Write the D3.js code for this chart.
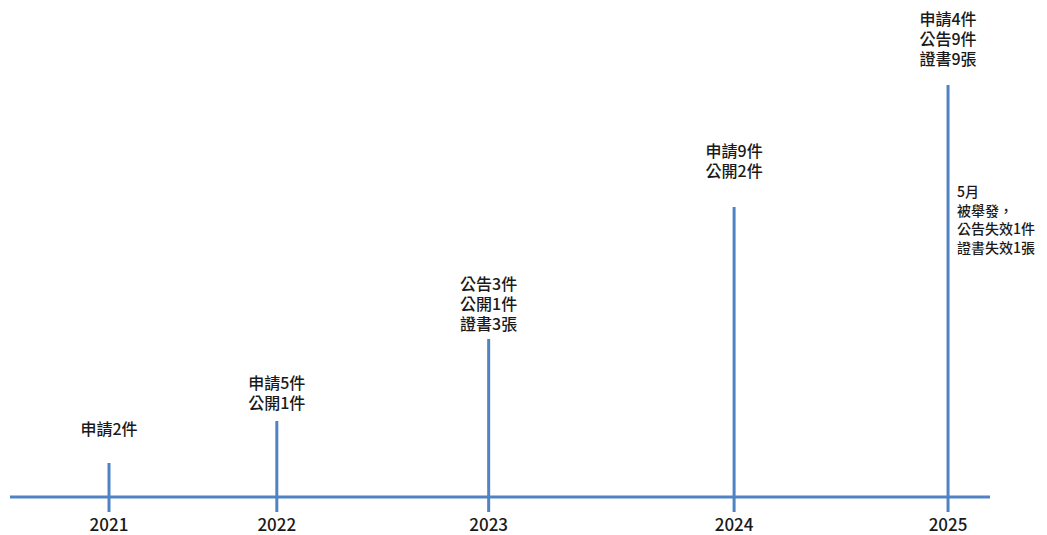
<!DOCTYPE html>
<html>
<head>
<meta charset="utf-8">
<script src="https://cdn.jsdelivr.net/npm/d3@7"></script>
<style>
  html, body { margin: 0; padding: 0; background: #fff; }
  svg { display: block; }
</style>
</head>
<body>
<svg id="chart" width="1047" height="535"></svg>
<script>
// ---- data ----
const years = ["2021", "2022", "2023", "2024", "2025"];
// position of each event on the time axis (fractional year)
const eventTimes = [2021.0, 2021.80, 2022.81, 2023.98, 2025.0];
// stem heights (relative units)
const stemHeights = [34, 76, 158, 290, 412];
// baseline of the last label line (same relative units)
const labelLevels = [62, 88, 167, 320, 432];
const eventLabels = [
  ["申請2件"],
  ["申請5件", "公開1件"],
  ["公告3件", "公開1件", "證書3張"],
  ["申請9件", "公開2件"],
  ["申請4件", "公告9件", "證書9張"]
];
const noteLines = ["5月", "被舉發，", "公告失效1件", "證書失效1張"];
const noteLevel = 300; // top line position, relative units

// ---- drawing ----
const svg = d3.select("#chart");
const blue = "#5083c4";
const fontFam = "'Noto Sans CJK TC', 'Noto Sans', sans-serif";
const ink = "#1a1a1a";

const x = d3.scaleLinear().domain([2020.528, 2025.2]).range([10, 990]);
const y = d3.scaleLinear().domain([0, 412]).range([497, 85]);

const data = years.map((yr, i) => ({
  year: yr, t: eventTimes[i], h: stemHeights[i], lvl: labelLevels[i], lines: eventLabels[i]
}));

// baseline axis
svg.append("line")
  .attr("x1", x.range()[0]).attr("x2", x.range()[1])
  .attr("y1", y(0)).attr("y2", y(0))
  .attr("stroke", blue).attr("stroke-width", 3);

// stems (extend slightly below axis as tick)
svg.selectAll("line.stem").data(data).join("line")
  .attr("class", "stem")
  .attr("x1", d => x(d.t)).attr("x2", d => x(d.t))
  .attr("y1", d => y(d.h)).attr("y2", y(0) + 15)
  .attr("stroke", blue).attr("stroke-width", 3);

// year labels
svg.selectAll("text.year").data(data).join("text")
  .attr("class", "year")
  .attr("x", d => x(d.t)).attr("y", 531)
  .attr("text-anchor", "middle")
  .attr("font-family", fontFam).attr("font-size", 17).attr("font-weight", 500)
  .attr("fill", ink)
  .text(d => d.year);

// event labels
const lh = 20;
const g = svg.selectAll("text.lbl").data(data).join("text")
  .attr("class", "lbl")
  .attr("text-anchor", "middle")
  .attr("font-family", fontFam).attr("font-size", 16).attr("font-weight", 500)
  .attr("fill", ink);
g.each(function(d) {
  const n = d.lines.length;
  d3.select(this).selectAll("tspan").data(d.lines).join("tspan")
    .attr("x", x(d.t))
    .attr("y", (s, j) => y(d.lvl) - (n - 1 - j) * lh)
    .text(s => s);
});

// side note for 2025
const last = data[data.length - 1];
svg.append("text")
  .attr("font-family", fontFam).attr("font-size", 14).attr("font-weight", 500)
  .attr("fill", ink)
  .selectAll("tspan").data(noteLines).join("tspan")
  .attr("x", x(last.t) + 9)
  .attr("y", (s, j) => y(noteLevel) + j * 18.5)
  .text(s => s);
</script>
</body>
</html>
